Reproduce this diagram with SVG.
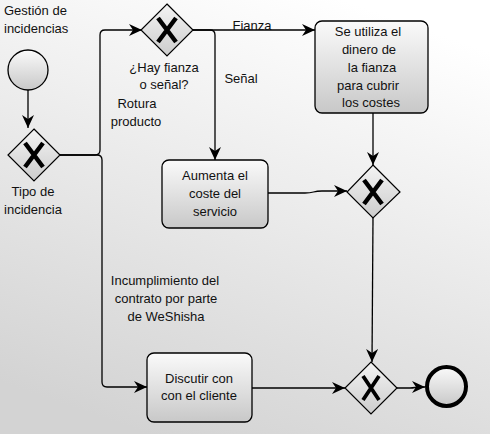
<svg xmlns="http://www.w3.org/2000/svg" width="490" height="434" viewBox="0 0 490 434">
<defs>
<linearGradient id="bg" x1="0.7" y1="0" x2="0.3" y2="1">
<stop offset="0" stop-color="#ffffff"/>
<stop offset="1" stop-color="#d3d3d3"/>
</linearGradient>
<linearGradient id="nodefill" x1="0" y1="0" x2="0" y2="1">
<stop offset="0" stop-color="#fafafa"/>
<stop offset="1" stop-color="#c8c8c8"/>
</linearGradient>
<linearGradient id="gwfill" x1="0" y1="0" x2="0" y2="1">
<stop offset="0" stop-color="#f4f4f4"/>
<stop offset="1" stop-color="#cccccc"/>
</linearGradient>
<marker id="arr" markerUnits="userSpaceOnUse" markerWidth="14" markerHeight="12" refX="13" refY="6" orient="auto">
<path d="M0,0 L13,6 L0,12 L4,6 z" fill="#000"/>
</marker>
</defs>
<style>
text{font-family:"Liberation Sans",Arial,sans-serif;font-size:13px;fill:#111}
.c{text-anchor:middle}
.task{fill:url(#nodefill);stroke:#000;stroke-width:1.3}
.gw{fill:url(#gwfill);stroke:#000;stroke-width:1.2}
.x{stroke:#000;stroke-width:4.5;stroke-linecap:butt;fill:none}
.edge{fill:none;stroke:#000;stroke-width:1.3;marker-end:url(#arr)}
</style>
<rect x="0" y="0" width="490" height="434" fill="url(#bg)"/>

<g id="title"><text x="4" y="15">Gestión de</text><text x="4" y="33">incidencias</text></g>

<g id="connectors">
<path class="edge" d="M28,90 L28,128"/>
<path class="edge" d="M60,155 L95,155 Q100,155 100,150 L100,35 Q100,30 105,30 L142,30"/>
<path class="edge" d="M60,155 L97,155 Q102,155 102,160 L102,382 Q102,387 107,387 L147,387"/>
<path class="edge" d="M193,30 L315,30"/>
<path class="edge" d="M193,30 L210,30 Q215,30 215,35 L215,160"/>
<path class="edge" d="M373,113 L373,165"/>
<path class="edge" d="M268,193 L305,193 C315,193 312,191 322,191 L347,191"/>
<path class="edge" d="M373,218 L372,362"/>
<path class="edge" d="M252,388 L345,388"/>
<path class="edge" d="M397,388 L410,388 C415,388 415,387 420,387 L425,387"/>
<text x="252" y="30" class="c">Fianza</text>
<text x="241" y="83" class="c">Señal</text>
<text x="137" y="108" class="c">Rotura</text>
<text x="136" y="126" class="c">producto</text>
<text x="165" y="285" class="c">Incumplimiento del</text>
<text x="166" y="303" class="c">contrato por parte</text>
<text x="166" y="321" class="c">de WeShisha</text>
</g>

<g id="start"><circle cx="28" cy="70" r="20" fill="url(#nodefill)" stroke="#000" stroke-width="1.3"/></g>

<g id="gw1">
<path class="gw" d="M34,129 L60,155 L34,181 L8,155 z"/>
<path class="x" d="M25,143 L43,167 M43,143 L25,167"/>
<text x="33" y="196" class="c">Tipo de</text>
<text x="33" y="214" class="c">incidencia</text>
</g>

<g id="gw2">
<path class="gw" d="M167,4 L193,30 L167,56 L141,30 z"/>
<path class="x" d="M158,18 L176,42 M176,18 L158,42"/>
<text x="164" y="72" class="c">¿Hay fianza</text>
<text x="164" y="89" class="c">o señal?</text>
</g>

<g id="task1">
<rect class="task" x="315" y="21" width="113" height="92" rx="7"/>
<text x="368" y="36" class="c">Se utiliza el</text>
<text x="369" y="54" class="c">dinero de</text>
<text x="372" y="72" class="c">la fianza</text>
<text x="368" y="90" class="c">para cubrir</text>
<text x="371" y="107" class="c">los costes</text>
</g>

<g id="task2">
<rect class="task" x="162" y="160" width="106" height="68" rx="7"/>
<text x="215" y="180" class="c">Aumenta el</text>
<text x="215" y="198" class="c">coste del</text>
<text x="215" y="216" class="c">servicio</text>
</g>

<g id="gw3">
<path class="gw" d="M373,165 L400,192 L373,218 L347,192 z"/>
<path class="x" d="M364,180 L382,204 M382,180 L364,204"/>
</g>

<g id="task3">
<rect class="task" x="147" y="353" width="105" height="69" rx="7"/>
<text x="199" y="383" class="c">Discutir con</text>
<text x="199" y="400" class="c">con el cliente</text>
</g>

<g id="gw4">
<path class="gw" d="M371,362 L397,388 L371,414 L345,388 z"/>
<path class="x" style="stroke-width:3.8" d="M363,376 L379,400 M379,376 L363,400"/>
</g>

<g id="end"><circle cx="446.5" cy="386.5" r="19.5" fill="url(#nodefill)" stroke="#000" stroke-width="4"/></g>
</svg>
